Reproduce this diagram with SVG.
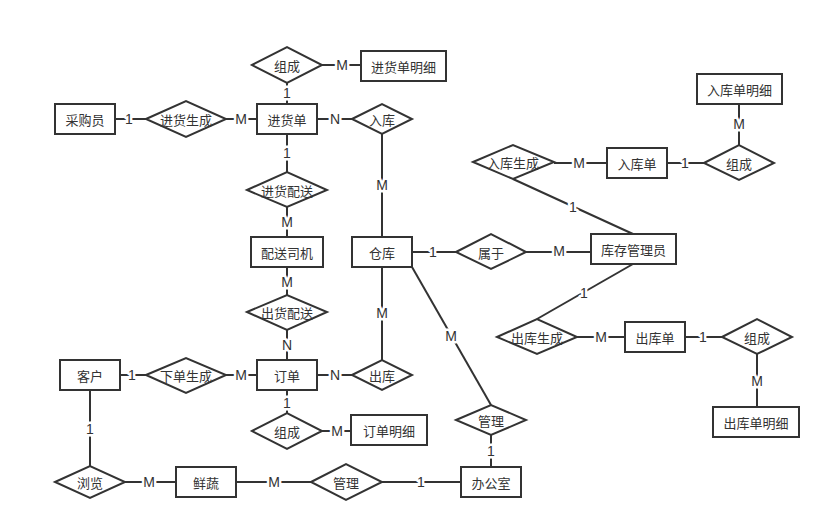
<svg xmlns="http://www.w3.org/2000/svg" width="831" height="531" viewBox="0 0 831 531">
<style>
.e{fill:#fff;stroke:#333;stroke-width:2}
.r{fill:#fff;stroke:#333;stroke-width:2}
.t{font-family:"Noto Sans CJK SC","Liberation Sans",sans-serif;font-size:13px;fill:#333;text-anchor:middle;dominant-baseline:central}
.c line{stroke:#333;stroke-width:2}
.l{font-family:"Liberation Sans","Noto Sans CJK SC",sans-serif;font-size:14px;fill:#333;text-anchor:middle;dominant-baseline:central;stroke:#fff;stroke-width:5;paint-order:stroke;stroke-linejoin:round}
</style>
<rect width="831" height="531" fill="#fff"/>
<g id="connectors" class="c">
<line x1="322" y1="65" x2="361" y2="65"/>
<line x1="287" y1="83" x2="287" y2="104"/>
<line x1="115" y1="119" x2="146" y2="119"/>
<line x1="226" y1="119" x2="257" y2="119"/>
<line x1="317" y1="119" x2="352" y2="119"/>
<line x1="382" y1="134" x2="382" y2="237"/>
<line x1="287" y1="134" x2="287" y2="172"/>
<line x1="287" y1="207" x2="287" y2="237"/>
<line x1="287" y1="267" x2="287" y2="295"/>
<line x1="287" y1="330" x2="287" y2="360"/>
<line x1="412" y1="252" x2="456" y2="252"/>
<line x1="526" y1="252" x2="591" y2="252"/>
<line x1="739" y1="104" x2="739" y2="145"/>
<line x1="667" y1="163" x2="704" y2="163"/>
<line x1="554" y1="163" x2="607" y2="163"/>
<line x1="513" y1="179" x2="633" y2="234"/>
<line x1="537" y1="319" x2="633" y2="264"/>
<line x1="577" y1="337" x2="625" y2="337"/>
<line x1="685" y1="337" x2="722" y2="337"/>
<line x1="757" y1="354" x2="757" y2="407"/>
<line x1="382" y1="267" x2="382" y2="360"/>
<line x1="412" y1="267" x2="491" y2="405"/>
<line x1="491" y1="435" x2="491" y2="467"/>
<line x1="120" y1="375" x2="146" y2="375"/>
<line x1="226" y1="375" x2="257" y2="375"/>
<line x1="317" y1="375" x2="352" y2="375"/>
<line x1="287" y1="390" x2="287" y2="413"/>
<line x1="322" y1="431" x2="351" y2="431"/>
<line x1="90" y1="390" x2="90" y2="466"/>
<line x1="125" y1="482" x2="176" y2="482"/>
<line x1="236" y1="482" x2="311" y2="482"/>
<line x1="382" y1="482" x2="461" y2="482"/>
</g>
<g id="labels">
<text class="l" x="342" y="65">M</text>
<text class="l" x="287" y="93">1</text>
<text class="l" x="129" y="119">1</text>
<text class="l" x="241" y="119">M</text>
<text class="l" x="335" y="119">N</text>
<text class="l" x="382" y="185">M</text>
<text class="l" x="287" y="153">1</text>
<text class="l" x="287" y="222">M</text>
<text class="l" x="287" y="282">M</text>
<text class="l" x="287" y="345">N</text>
<text class="l" x="433" y="252">1</text>
<text class="l" x="559" y="251">M</text>
<text class="l" x="739" y="124">M</text>
<text class="l" x="685" y="163">1</text>
<text class="l" x="579" y="163">M</text>
<text class="l" x="573" y="207">1</text>
<text class="l" x="584" y="293">1</text>
<text class="l" x="601" y="337">M</text>
<text class="l" x="703" y="337">1</text>
<text class="l" x="757" y="381">M</text>
<text class="l" x="382" y="313">M</text>
<text class="l" x="451" y="336">M</text>
<text class="l" x="491" y="451">1</text>
<text class="l" x="132" y="375">1</text>
<text class="l" x="241" y="375">M</text>
<text class="l" x="335" y="375">N</text>
<text class="l" x="287" y="403">1</text>
<text class="l" x="337" y="431">M</text>
<text class="l" x="90" y="429">1</text>
<text class="l" x="149" y="482">M</text>
<text class="l" x="274" y="482">M</text>
<text class="l" x="421" y="482">1</text>
</g>
<g id="n-zucheng1"><polygon class="r" points="252,65 287,47 322,65 287,83"/><text class="t" x="287" y="65">组成</text></g>
<g id="n-jhdmx"><rect class="e" x="361" y="51" width="85" height="30"/><text class="t" x="403.5" y="66">进货单明细</text></g>
<g id="n-cgy"><rect class="e" x="55" y="104" width="60" height="30"/><text class="t" x="85" y="119">采购员</text></g>
<g id="n-jhsc"><polygon class="r" points="146,119 186,101 226,119 186,137"/><text class="t" x="186" y="119">进货生成</text></g>
<g id="n-jhd"><rect class="e" x="257" y="104" width="60" height="30"/><text class="t" x="287" y="119">进货单</text></g>
<g id="n-ruku"><polygon class="r" points="352,119 382,104 412,119 382,134"/><text class="t" x="382" y="119">入库</text></g>
<g id="n-jhps"><polygon class="r" points="247,190 287,172 327,190 287,207"/><text class="t" x="287" y="190">进货配送</text></g>
<g id="n-pssj"><rect class="e" x="251" y="237" width="72" height="30"/><text class="t" x="287" y="252">配送司机</text></g>
<g id="n-cangku"><rect class="e" x="352" y="237" width="60" height="30"/><text class="t" x="382" y="252">仓库</text></g>
<g id="n-shuyu"><polygon class="r" points="456,252 491,234 526,252 491,269"/><text class="t" x="491" y="252">属于</text></g>
<g id="n-kcgly"><rect class="e" x="591" y="234" width="85" height="30"/><text class="t" x="633.5" y="249">库存管理员</text></g>
<g id="n-rkdmx"><rect class="e" x="697" y="74" width="85" height="30"/><text class="t" x="739.5" y="89">入库单明细</text></g>
<g id="n-zucheng2"><polygon class="r" points="704,163 739,145 774,163 739,180"/><text class="t" x="739" y="163">组成</text></g>
<g id="n-rkd"><rect class="e" x="607" y="148" width="60" height="30"/><text class="t" x="637" y="163">入库单</text></g>
<g id="n-rksc"><polygon class="r" points="473,162 513,145 554,162 513,179"/><text class="t" x="513" y="162">入库生成</text></g>
<g id="n-cksc"><polygon class="r" points="497,337 537,319 577,337 537,354"/><text class="t" x="537" y="337">出库生成</text></g>
<g id="n-ckd"><rect class="e" x="625" y="322" width="60" height="30"/><text class="t" x="655" y="337">出库单</text></g>
<g id="n-zucheng3"><polygon class="r" points="722,337 757,319 792,337 757,354"/><text class="t" x="757" y="337">组成</text></g>
<g id="n-ckdmx"><rect class="e" x="713" y="407" width="86" height="30"/><text class="t" x="756" y="422">出库单明细</text></g>
<g id="n-chps"><polygon class="r" points="247,312 287,295 327,312 287,330"/><text class="t" x="287" y="312">出货配送</text></g>
<g id="n-dingdan"><rect class="e" x="257" y="360" width="60" height="30"/><text class="t" x="287" y="375">订单</text></g>
<g id="n-chuku"><polygon class="r" points="352,375 382,360 412,375 382,390"/><text class="t" x="382" y="375">出库</text></g>
<g id="n-kehu"><rect class="e" x="60" y="360" width="60" height="30"/><text class="t" x="90" y="375">客户</text></g>
<g id="n-xdsc"><polygon class="r" points="146,375 186,358 226,375 186,393"/><text class="t" x="186" y="375">下单生成</text></g>
<g id="n-zucheng4"><polygon class="r" points="252,431 287,413 322,431 287,449"/><text class="t" x="287" y="431">组成</text></g>
<g id="n-ddmx"><rect class="e" x="351" y="415" width="76" height="30"/><text class="t" x="389" y="430">订单明细</text></g>
<g id="n-liulan"><polygon class="r" points="55,482 90,466 125,482 90,498"/><text class="t" x="90" y="482">浏览</text></g>
<g id="n-xianshu"><rect class="e" x="176" y="467" width="60" height="30"/><text class="t" x="206" y="482">鲜蔬</text></g>
<g id="n-guanli1"><polygon class="r" points="311,482 346,464 382,482 346,500"/><text class="t" x="346" y="482">管理</text></g>
<g id="n-guanli2"><polygon class="r" points="456,420 491,405 526,420 491,435"/><text class="t" x="491" y="420">管理</text></g>
<g id="n-bgs"><rect class="e" x="461" y="467" width="60" height="30"/><text class="t" x="491" y="482">办公室</text></g>
</svg>
